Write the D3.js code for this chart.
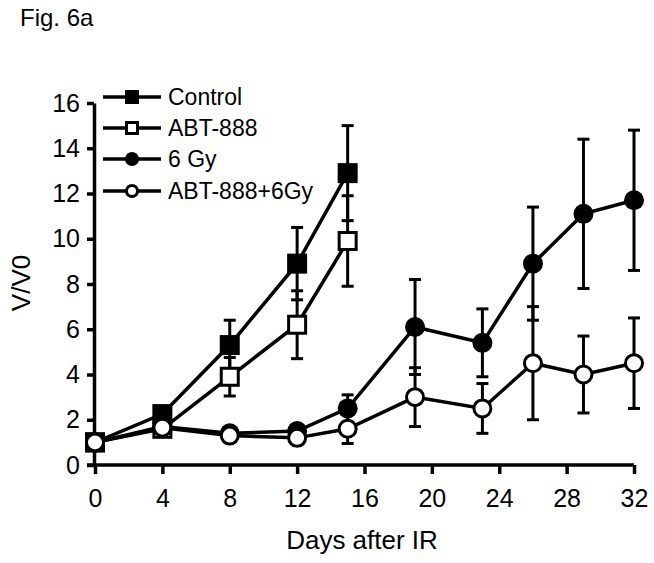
<!DOCTYPE html>
<html><head><meta charset="utf-8">
<script src="https://cdn.jsdelivr.net/npm/d3@7"></script>
<style>body{margin:0;background:#fff}svg{display:block}text{font-family:"Liberation Sans",Arial,Helvetica,sans-serif;fill:#000}</style>
</head><body><svg id="c" width="654" height="563"></svg>
<script>
const xTicks = [0,4,8,12,16,20,24,28,32];
const yTicks = [0,2,4,6,8,10,12,14,16];
const seriesNames = ["Control","ABT-888","6 Gy","ABT-888+6Gy"];
const daysControl = [0,4,8,12,15];
const valControl = [1.0,2.25,5.3,8.9,12.9];
const errControl = [0,0,1.1,1.6,2.1];
const daysABT = [0,4,8,12,15];
const valABT = [1.0,1.6,3.9,6.2,9.9];
const errABT = [0,0,0.85,1.5,2.0];
const days6Gy = [0,4,8,12,15,19,23,26,29,32];
const val6Gy = [1.0,1.7,1.4,1.5,2.5,6.1,5.4,8.9,11.1,11.7];
const err6Gy = [0,0,0,0,0.6,2.1,1.5,2.5,3.3,3.1];
const daysCombo = [0,4,8,12,15,19,23,26,29,32];
const valCombo = [1.0,1.65,1.3,1.2,1.6,3.0,2.5,4.5,4.0,4.5];
const errCombo = [0,0,0,0,0.65,1.3,1.1,2.5,1.7,2.0];

const series = [
  {name:seriesNames[0], days:daysControl, vals:valControl, errs:errControl, shape:"square", fill:"#000"},
  {name:seriesNames[1], days:daysABT, vals:valABT, errs:errABT, shape:"square", fill:"#fff"},
  {name:seriesNames[2], days:days6Gy, vals:val6Gy, errs:err6Gy, shape:"circle", fill:"#000"},
  {name:seriesNames[3], days:daysCombo, vals:valCombo, errs:errCombo, shape:"circle", fill:"#fff"}
];

const svg = d3.select("#c");
const x = d3.scaleLinear().domain([0,32]).range([95,634]);
const y = d3.scaleLinear().domain([0,16]).range([465,103]);

svg.append("text").attr("x",20).attr("y",26).attr("font-size",24).text("Fig. 6a");

// axes
const xAxis = svg.append("g").attr("transform","translate(0,465)")
  .call(d3.axisBottom(x).tickValues(xTicks).tickSize(9).tickPadding(15).tickSizeOuter(0));
const yAxis = svg.append("g").attr("transform","translate(94,0)")
  .call(d3.axisLeft(y).tickValues(yTicks).tickSize(7).tickPadding(7).tickSizeOuter(0));
[xAxis,yAxis].forEach(g=>{
  g.select(".domain").attr("stroke","#000").attr("stroke-width",3.5);
  g.selectAll(".tick line").attr("stroke","#000").attr("stroke-width",3.5);
  g.selectAll(".tick text").attr("font-size",25).attr("font-family","Liberation Sans, Arial, sans-serif").attr("fill","#000");
});
xAxis.select(".domain").attr("d","M87,0H634");

svg.append("text").attr("x",362).attr("y",549).attr("text-anchor","middle").attr("font-size",26).text("Days after IR");
svg.append("text").attr("transform","translate(30,283) rotate(-90)").attr("text-anchor","middle").attr("font-size",26).text("V/V0");

function marker(g, shape, fill, size){
  if(shape==="square"){
    const s = fill==="#000"? size : size-3;
    g.append("rect").attr("x",-s/2).attr("y",-s/2).attr("width",s).attr("height",s)
      .attr("fill",fill).attr("stroke","#000").attr("stroke-width",fill==="#000"?0:3);
  } else {
    const r = fill==="#000"? size/2 : size/2-1.5;
    g.append("circle").attr("r",r).attr("fill",fill).attr("stroke","#000").attr("stroke-width",fill==="#000"?0:3);
  }
}

const line = d3.line().x(d=>x(d[0])).y(d=>y(d[1]));
// error bars, lines and markers
series.forEach(s=>{
  const pts = s.days.map((d,i)=>[d,s.vals[i],s.errs[i]]);
  const eg = svg.append("g");
  pts.filter(p=>p[2]>0).forEach(p=>{
    const cx = x(p[0]);
    eg.append("line").attr("x1",cx).attr("x2",cx).attr("y1",y(p[1]-p[2])).attr("y2",y(p[1]+p[2])).attr("stroke","#000").attr("stroke-width",3);
    [p[1]-p[2],p[1]+p[2]].forEach(v=>{
      eg.append("line").attr("x1",cx-6).attr("x2",cx+6).attr("y1",y(v)).attr("y2",y(v)).attr("stroke","#000").attr("stroke-width",3);
    });
  });
});
series.forEach(s=>{
  const pts = s.days.map((d,i)=>[d,s.vals[i]]);
  svg.append("path").datum(pts).attr("d",line).attr("fill","none").attr("stroke","#000").attr("stroke-width",3.5);
});
series.forEach(s=>{
  s.days.forEach((d,i)=>{
    const g = svg.append("g").attr("transform",`translate(${x(d)},${y(s.vals[i])})`);
    marker(g, s.shape, s.fill, 20);
  });
});

// legend
const legY = [97,128,159,191];
series.forEach((s,i)=>{
  const g = svg.append("g").attr("transform",`translate(0,${legY[i]})`);
  g.append("line").attr("x1",103).attr("x2",161).attr("y1",0).attr("y2",0).attr("stroke","#000").attr("stroke-width",3.5);
  const mg = g.append("g").attr("transform","translate(132,0)");
  marker(mg, s.shape, s.fill, 14);
  g.append("text").attr("x",168).attr("y",8).attr("font-size",23).text(s.name);
});
</script></body></html>
